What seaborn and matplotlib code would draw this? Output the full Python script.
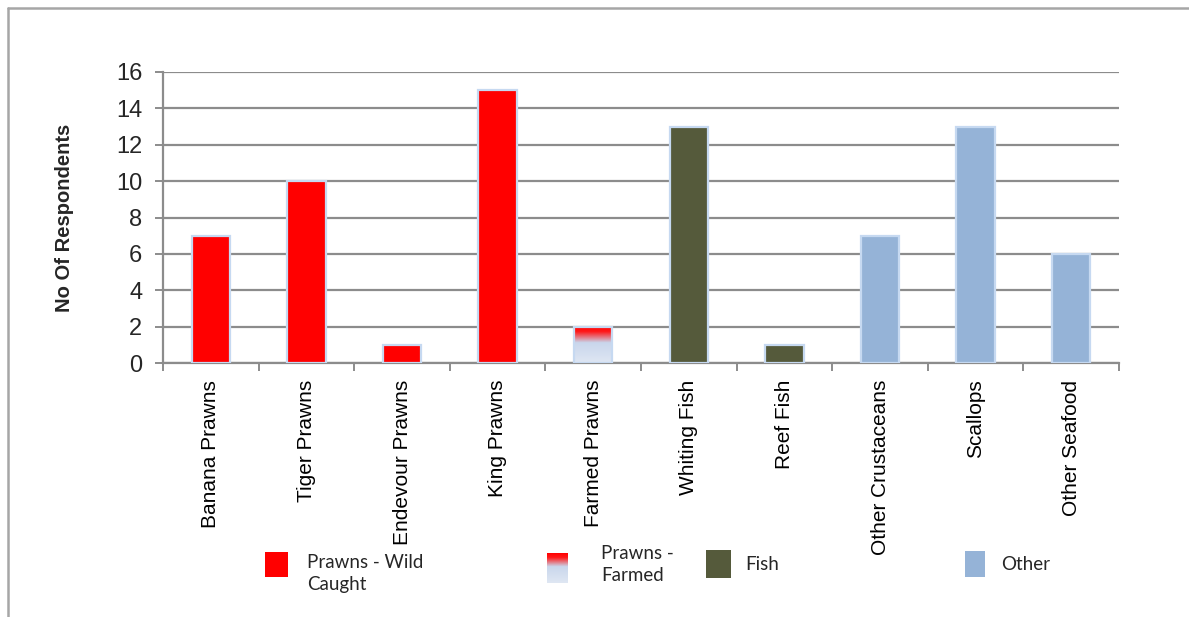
import numpy as np
import pandas as pd
import matplotlib
matplotlib.use("Agg")
import matplotlib.pyplot as plt
from matplotlib.patches import Rectangle
from matplotlib.lines import Line2D
from matplotlib.colors import LinearSegmentedColormap
import seaborn as sns

# --- data ---
categories = ["Banana Prawns", "Tiger Prawns", "Endevour Prawns", "King Prawns",
              "Farmed Prawns", "Whiting Fish", "Reef Fish", "Other Crustaceans",
              "Scallops", "Other Seafood"]
respondents = [7, 10, 1, 15, 2, 13, 1, 7, 13, 6]
groups = ["Prawns - Wild Caught"] * 4 + ["Prawns - Farmed"] + ["Fish"] * 2 + ["Other"] * 3
y_ticks = [0, 2, 4, 6, 8, 10, 12, 14, 16]

group_colors = {
    "Prawns - Wild Caught": "#ff0000",
    "Prawns - Farmed": "#ff0000",
    "Fish": "#555a3b",
    "Other": "#95b3d7",
}
edge_color = "#c6d9f1"
grid_color = "#8c8c8c"

# red-to-pale-blue fill used for farmed prawns
farmed_cmap = LinearSegmentedColormap.from_list(
    "farmed", [(0.0, "#ff0000"), (0.15, "#ff1a1a"), (0.45, "#c9d6ec"), (1.0, "#dfe7f3")])

df = pd.DataFrame({"category": categories, "respondents": respondents, "group": groups})

sns.set_theme(style="white")
plt.rcParams["font.family"] = ["Liberation Sans", "DejaVu Sans"]

fig = plt.figure(figsize=(11.89, 6.17), dpi=100)
ax = fig.add_axes([163 / 1189, 1 - 363 / 617, (1119 - 163) / 1189, (363 - 72) / 617])

sns.barplot(data=df, x="category", y="respondents", hue="group",
            palette=group_colors, saturation=1, dodge=False, width=0.4, legend=False,
            edgecolor=edge_color, linewidth=1.6, ax=ax, zorder=3)

# gradient fill for the farmed prawns bar
farmed_idx = categories.index("Farmed Prawns")
for p in ax.patches:
    x0 = p.get_x()
    if abs(x0 + p.get_width() / 2 - farmed_idx) < 1e-6 and p.get_height() > 0:
        grad = np.linspace(0, 1, 256).reshape(-1, 1)
        im = ax.imshow(grad, cmap=farmed_cmap, aspect="auto",
                       extent=[x0, x0 + p.get_width(), 0, p.get_height()],
                       origin="upper", zorder=3.5)
        im.set_clip_path(p)
        p.set_facecolor("none")
        p.set_zorder(4)

ax.set_xlim(-0.5, len(categories) - 0.5)
ax.set_ylim(0, 16)
ax.set_yticks(y_ticks)
ax.set_yticklabels([str(t) for t in y_ticks], fontsize=17)
ax.yaxis.grid(True, color=grid_color, linewidth=1.6, zorder=0)
ax.set_axisbelow(True)

ax.set_xticks(range(len(categories)))
ax.set_xticklabels(categories, rotation=90, fontsize=15, va="top", ha="center")
ax.set_xticks(np.arange(-0.5, len(categories)), minor=True)
ax.tick_params(axis="x", which="major", length=0, pad=12, colors="black")
ax.tick_params(axis="x", which="minor", length=6, width=1.4, color=grid_color, bottom=True)
ax.tick_params(axis="y", which="major", length=6, width=1.4, color=grid_color, pad=9, left=True)

for side in ["top", "right"]:
    ax.spines[side].set_visible(False)
for side in ["left", "bottom"]:
    ax.spines[side].set_color(grid_color)
    ax.spines[side].set_linewidth(1.6)

ax.set_xlabel("")
ax.set_ylabel("No Of Respondents", fontsize=14.5, fontweight="bold", labelpad=30)

# outer frame lines
fig.add_artist(Line2D([8 / 1189, 8 / 1189], [0, 1 - 8 / 617], color="#a6a6a6",
                      linewidth=1.8, transform=fig.transFigure))
fig.add_artist(Line2D([8 / 1189, 1], [1 - 8 / 617, 1 - 8 / 617], color="#a6a6a6",
                      linewidth=1.8, transform=fig.transFigure))

# legend
legend_font = ["Lato", "DejaVu Sans"]
def px(x, y):
    return x / 1189, 1 - y / 617

def add_key(x0, y0, x1, y1, color=None, gradient=False):
    fx, fy = px(x0, y1)
    w, h = (x1 - x0) / 1189, (y1 - y0) / 617
    if gradient:
        kax = fig.add_axes([fx, fy, w, h])
        kax.imshow(np.linspace(0, 1, 256).reshape(-1, 1), cmap=farmed_cmap,
                   aspect="auto", origin="upper")
        kax.set_axis_off()
    else:
        fig.add_artist(Rectangle((fx, fy), w, h, transform=fig.transFigure,
                                 facecolor=color, edgecolor="none"))

add_key(265, 552, 288, 577, group_colors["Prawns - Wild Caught"])
fig.text(*px(307, 554), "Prawns - Wild\nCaught", fontsize=13.5, family=legend_font,
         va="top", ha="left", linespacing=1.35)
add_key(547, 553, 568, 583, gradient=True)
fig.text(*px(601, 545), "Prawns -\nFarmed", fontsize=13.5, family=legend_font,
         va="top", ha="left", linespacing=1.35)
add_key(706, 550, 731, 578, group_colors["Fish"])
fig.text(*px(745, 565), "Fish", fontsize=13.5, family=legend_font, va="center", ha="left")
add_key(965, 551, 985, 577, group_colors["Other"])
fig.text(*px(1001, 565), "Other", fontsize=13.5, family=legend_font, va="center", ha="left")

fig.savefig("out.png", dpi=100, facecolor="white")
